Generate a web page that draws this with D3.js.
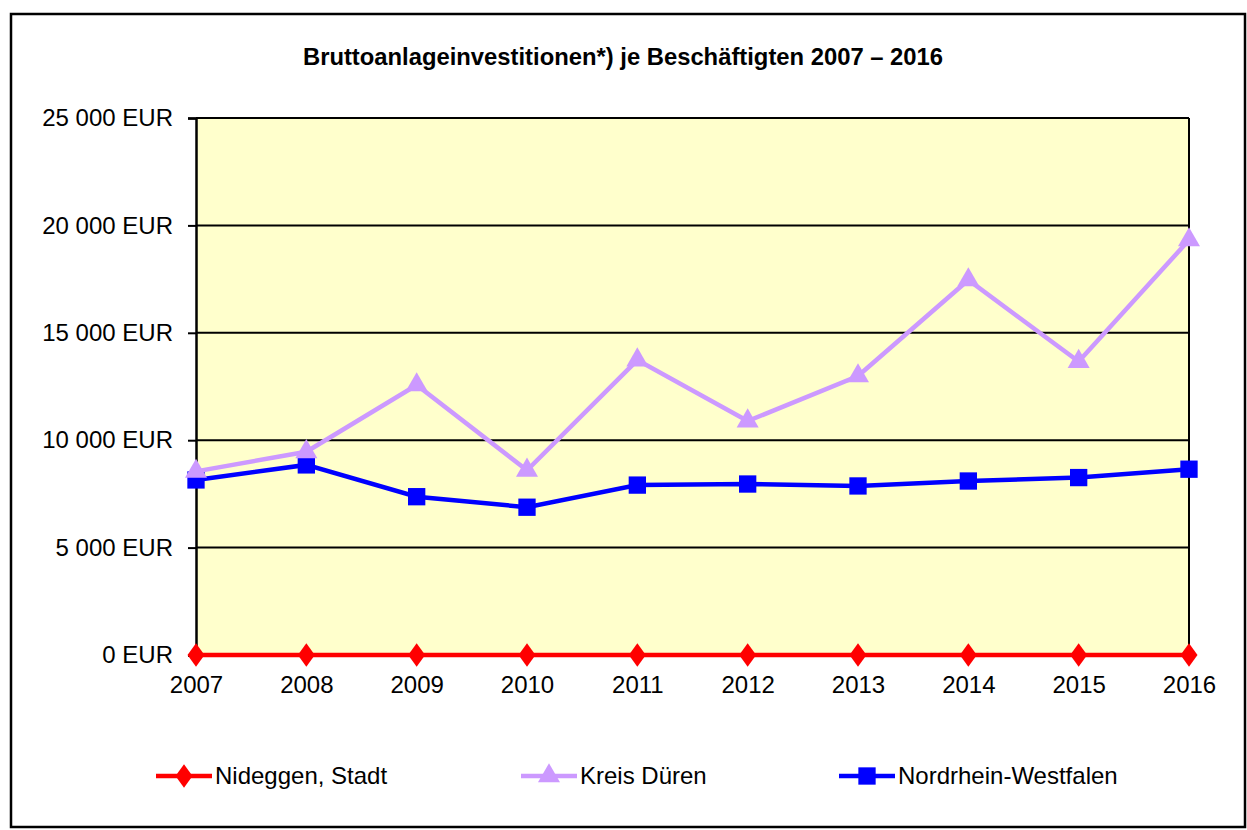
<!DOCTYPE html>
<html>
<head>
<meta charset="utf-8">
<script src="https://cdn.jsdelivr.net/npm/d3@7"></script>
<style>
  body { margin: 0; background: #fff; }
  text { font-family: "Liberation Sans", Arial, sans-serif; }
</style>
</head>
<body>
<script>
// data
var years = ["2007", "2008", "2009", "2010", "2011", "2012", "2013", "2014", "2015", "2016"];
var nideggen = [0, 0, 0, 0, 0, 0, 0, 0, 0, 0];
var kreisDueren = [8550, 9460, 12570, 8600, 13730, 10890, 12990, 17460, 13660, 19320];
var nrw = [8150, 8850, 7370, 6880, 7910, 7960, 7870, 8100, 8260, 8650];
var yTicks = [0, 5000, 10000, 15000, 20000, 25000];
var seriesNames = ["Nideggen, Stadt", "Kreis Düren", "Nordrhein-Westfalen"];

const w = 1247,
    h = 830;
const plotL = 196, plotR = 1189, plotT = 118, plotB = 655;

const svg = d3.select("body")
    .append("svg")
    .attr("width", w)
    .attr("height", h);

// outer frame
svg.append("rect")
    .attr("x", 11).attr("y", 14)
    .attr("width", 1234).attr("height", 813)
    .attr("fill", "#fff")
    .attr("stroke", "#000")
    .attr("stroke-width", 2.5);

svg.append("text")
    .attr("x", 623).attr("y", 65)
    .attr("text-anchor", "middle")
    .attr("font-size", 23.8)
    .attr("font-weight", "bold")
    .text("Bruttoanlageinvestitionen*) je Beschäftigten 2007 \u2013 2016");

var xScale = d3.scalePoint()
    .domain(years)
    .range([plotL, plotR]);

var yScale = d3.scaleLinear()
    .domain([0, 25000])
    .range([plotB, plotT]);

// plot background
svg.append("rect")
    .attr("x", plotL).attr("y", plotT)
    .attr("width", plotR - plotL).attr("height", plotB - plotT)
    .attr("fill", "#FFFFCC");

var fmt = function (d) {
    return d3.format(",")(d).replace(/,/g, " ") + " EUR";
};

// gridlines
svg.append("g")
    .selectAll("line")
    .data(yTicks)
    .enter()
    .append("line")
    .attr("x1", plotL).attr("x2", plotR)
    .attr("y1", (d) => yScale(d)).attr("y2", (d) => yScale(d))
    .attr("stroke", "#000")
    .attr("stroke-width", 2);

// right border of plot
svg.append("line")
    .attr("x1", plotR).attr("x2", plotR)
    .attr("y1", plotT).attr("y2", plotB)
    .attr("stroke", "#000").attr("stroke-width", 2);

var yAxis = d3.axisLeft(yScale)
    .tickValues(yTicks)
    .tickFormat(fmt)
    .tickSize(8)
    .tickPadding(15);

var gy = svg.append("g")
    .attr("transform", "translate(" + plotL + ",0)")
    .call(yAxis);
gy.select(".domain").attr("stroke-width", 2.5);
gy.selectAll(".tick line").attr("stroke-width", 2);
gy.selectAll(".tick text")
    .attr("font-size", 24)
    .attr("font-family", "Liberation Sans, Arial, sans-serif")
    .attr("fill", "#000");

var xAxis = d3.axisBottom(xScale)
    .tickSize(0)
    .tickPadding(21);

var gx = svg.append("g")
    .attr("transform", "translate(0," + plotB + ")")
    .call(xAxis);
gx.select(".domain").remove();
gx.selectAll(".tick text")
    .attr("font-size", 24)
    .attr("font-family", "Liberation Sans, Arial, sans-serif")
    .attr("fill", "#000");

var line = d3.line()
    .x((d, i) => xScale(years[i]))
    .y((d) => yScale(d));

var series = [
    { name: seriesNames[0], values: nideggen, color: "#FF0000", symbol: d3.symbolDiamond, size: 160 },
    { name: seriesNames[1], values: kreisDueren, color: "#CC99FF", symbol: d3.symbolTriangle, size: 210 },
    { name: seriesNames[2], values: nrw, color: "#0000FF", symbol: d3.symbolSquare, size: 300 }
];

// draw in reverse so red stays on top at zero
series.slice().reverse().forEach(function (s) {
    svg.append("path")
        .datum(s.values)
        .attr("d", line)
        .attr("fill", "none")
        .attr("stroke", s.color)
        .attr("stroke-width", 4.5);

    svg.append("g")
        .selectAll("path")
        .data(s.values)
        .enter()
        .append("path")
        .attr("transform", (d, i) => "translate(" + xScale(years[i]) + "," + yScale(d) + ")" + (s.symbol === d3.symbolDiamond ? " scale(1.25,1)" : ""))
        .attr("d", d3.symbol().type(s.symbol).size(s.size))
        .attr("fill", s.color);
});

// legend
var legendX = [156, 521, 839];
series.forEach(function (s, i) {
    var g = svg.append("g")
        .attr("transform", "translate(" + legendX[i] + ",776)");
    g.append("line")
        .attr("x1", 0).attr("x2", 56)
        .attr("stroke", s.color)
        .attr("stroke-width", 4.5);
    g.append("path")
        .attr("transform", "translate(28,0)" + (s.symbol === d3.symbolDiamond ? " scale(1.25,1)" : ""))
        .attr("d", d3.symbol().type(s.symbol).size(s.size))
        .attr("fill", s.color);
    g.append("text")
        .attr("x", 59).attr("y", 8)
        .attr("font-size", 24)
        .text(s.name);
});
</script>
</body>
</html>
